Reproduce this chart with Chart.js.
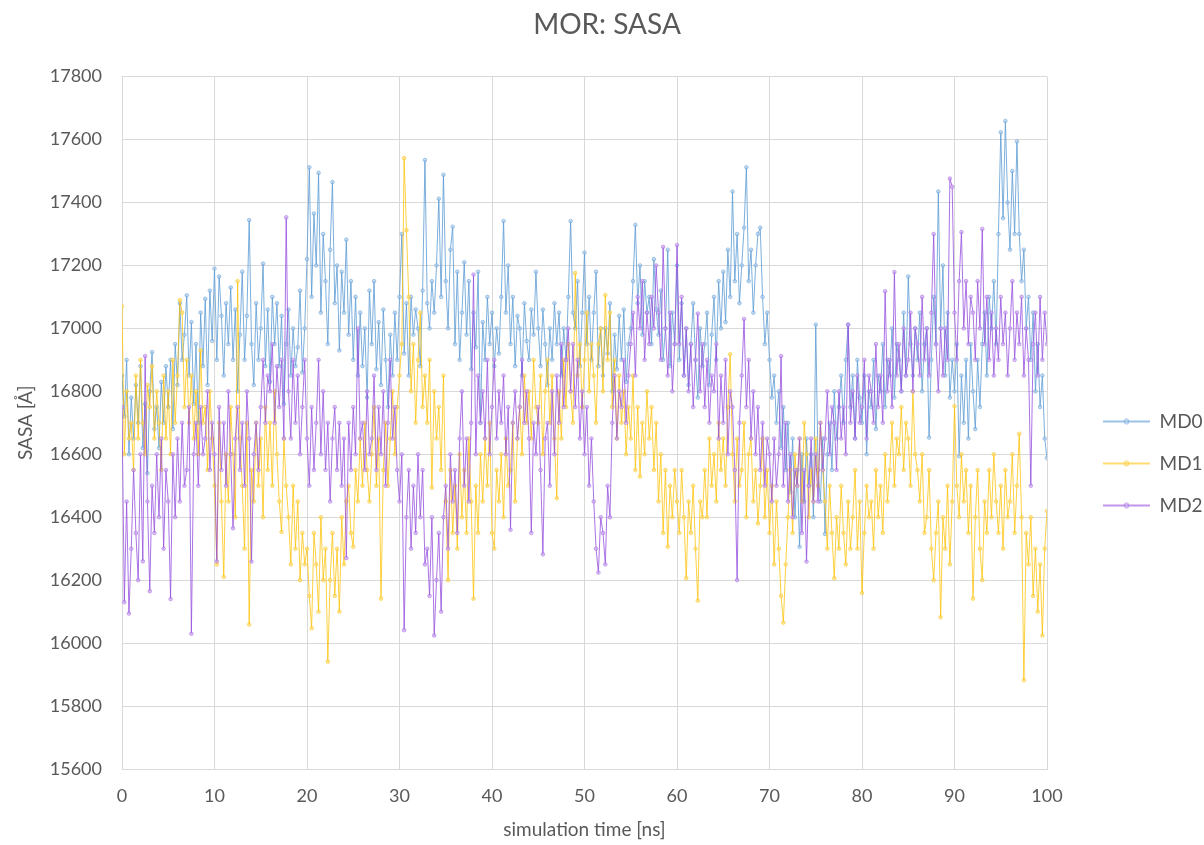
<!DOCTYPE html>
<html>
<head>
<meta charset="utf-8">
<title>MOR: SASA</title>
<script src="https://cdn.jsdelivr.net/npm/chart.js@4.4.1/dist/chart.umd.min.js"></script>
<style>
    html, body { margin: 0; padding: 0; background: #ffffff; }
</style>
</head>
<body>
<canvas id="chartSasa" width="1204" height="845"></canvas>
<script>
// Sampling step of the trajectories (ns)
const timeStepNs = 0.25;

// SASA values, one row per ns
const md0Sasa = [
    16850, 16720, 16900, 16600,
    16780, 16650, 16820, 16700,
    16880, 16620, 16760, 16540,
    16800, 16925, 16680, 16750,
    16620, 16830, 16700, 16880,
    16750, 16900, 16680, 16950,
    16820, 17080, 16900, 16980,
    17105, 16850, 17020, 16760,
    16950, 16700, 17050, 16880,
    17094, 16820, 17120, 16960,
    17190, 16900, 17165, 17040,
    16850, 17080, 16950, 17130,
    16900, 17060, 16800, 16980,
    17180, 16900, 17040, 17344,
    16950, 16820, 17080, 16900,
    17000, 17206, 16880, 17060,
    16830, 17100, 16950, 17080,
    16880, 17040, 16760, 16950,
    17060, 16850, 17000, 16880,
    16940, 17120, 16860, 17000,
    17220, 17512, 17100, 17365,
    17200, 17494, 17050, 17300,
    17150, 16950, 17250, 17465,
    17080, 17200, 16930, 17180,
    17050, 17282, 16980, 17150,
    16900, 17100, 16850, 17050,
    16880, 17000, 16780, 17120,
    16950, 17150, 16870, 17020,
    16820, 17060, 16900, 16750,
    16980, 16850, 17050, 16900,
    17100, 17300, 16920, 17080,
    16850, 17100, 16980, 17060,
    17000, 16880, 17120, 17535,
    17080, 17000, 17150, 17050,
    17200, 17412, 17100, 17488,
    17150, 17000, 17250, 17323,
    16950, 17180, 16900, 17050,
    17210, 16980, 17150, 16870,
    17050, 16940, 17180, 16700,
    17020, 16900, 17100, 16950,
    17050, 16880, 17000, 16920,
    17100, 17341, 17050, 17200,
    16950, 17100, 16880, 17040,
    17000, 16850, 17080, 16960,
    16900, 17060, 16980, 17180,
    17000, 16880, 17060, 16950,
    16820, 17000, 16900, 17080,
    16950, 17050, 16850, 17000,
    16900, 17100, 17341, 17050,
    17000, 17150, 16880, 17050,
    17241, 16950, 17100, 16900,
    17050, 17180, 16880, 17000,
    16850, 17000, 16920, 17080,
    16800, 16980, 16870, 17040,
    16900, 17060, 16830, 16950,
    17000, 17150, 17329, 17080,
    17200, 16980, 17150, 17050,
    17100, 16950, 17220, 17060,
    16980, 17120, 16900, 17000,
    17250, 16880, 17050, 16950,
    17200, 16900, 17080, 16850,
    17000, 16820, 16950, 17080,
    16900, 16780, 17000, 16880,
    16950, 17050, 16820, 16980,
    17100, 16900, 17150, 17000,
    17180, 17020, 17250, 17100,
    17435, 17150, 17300, 17080,
    17200, 17320, 17512, 17150,
    17250, 17050, 17200, 17300,
    17320, 17100, 16950, 17050,
    16900, 16780, 16850, 16700,
    16800, 16620, 16750, 16550,
    16700, 16480, 16650, 16400,
    16550, 16306, 16600, 16450,
    16650, 16500, 16600, 16400,
    17012, 16550, 16450, 16650,
    16347, 16600, 16700, 16550,
    16800, 16650, 16750, 16850,
    16700, 16900, 17012, 16750,
    16850, 16650, 16900, 16780,
    16700, 16850, 16600, 16800,
    16750, 16900, 16680, 16850,
    16800, 16950, 16750, 16900,
    16850, 17000, 16780, 16950,
    16900, 16800, 17050, 16850,
    17165, 16950, 16850, 17000,
    16900, 17050, 16800, 16950,
    17000, 16653, 16900, 17100,
    16950, 17435, 17000, 17200,
    16850, 17050, 16780, 16900,
    16800, 16950, 16594, 16850,
    16700, 16900, 16650, 16950,
    16800, 16680, 16900, 16750,
    16950, 17050, 16850, 17100,
    17000, 17150, 16950, 17300,
    17623, 17350, 17659, 17400,
    17250, 17500, 17300, 17594,
    17300, 17150, 17250, 17000,
    17100, 16900, 17050, 16800,
    16950, 16750, 16850, 16650,
    16588
];

const md1Sasa = [
    17070, 16600, 16800, 16650,
    16700, 16550, 16850, 16650,
    16900, 16700, 16600, 16820,
    16750, 16880, 16650, 16800,
    16700, 16550, 16850, 16650,
    16800, 16600, 16900, 16700,
    16850, 17090, 17050, 16750,
    16900, 16700, 16850, 16650,
    16800, 16600, 16930, 16700,
    16750, 16550, 16800, 16650,
    16500, 16250, 16700, 16450,
    16210, 16600, 16450, 16750,
    16600, 16400, 17150, 16650,
    16500, 16300, 16700, 16059,
    16550, 16450, 16700, 16500,
    16650, 16400, 16750, 16550,
    16700, 16500, 16800, 16600,
    16450, 16353, 16650, 16500,
    16400, 16250, 16500, 16300,
    16450, 16200, 16350, 16250,
    16300, 16150, 16047, 16350,
    16250, 16100, 16400, 16200,
    16300, 15941, 16200, 16350,
    16150, 16300, 16100, 16400,
    16250, 16450, 16500, 16350,
    16306, 16550, 16450, 16650,
    16500, 16700, 16550, 16450,
    16600, 16750, 16500, 16650,
    16141, 16550, 16700, 16500,
    16650, 16800, 16600, 16750,
    16850, 16950, 17541, 17312,
    17100, 16800, 16950, 16700,
    16900, 17050, 16750, 16850,
    16700, 16900, 16494, 16800,
    16650, 16750, 16550, 16850,
    16450, 16200, 16550, 16350,
    16500, 16300, 16600, 16400,
    16550, 16350, 16650, 16450,
    16141, 16500, 16350, 16600,
    16450, 16650, 16500, 16700,
    16350, 16300, 16550, 16450,
    16600, 16400, 16650, 16500,
    16550, 16700, 16450, 16650,
    16750, 16600, 16850, 16700,
    16800, 16650, 16900, 16750,
    16700, 16850, 16600, 16800,
    16900, 16700, 16850, 16650,
    16460, 16800, 16650, 16900,
    16750, 16950, 16800, 16700,
    17176, 16850, 16950, 16750,
    16900, 17050, 16800, 16950,
    16850, 16700, 16950, 17000,
    16800, 17106, 16900, 17050,
    16750, 16900, 16650, 16850,
    16700, 16800, 16600, 16750,
    16650, 16850, 16550, 16750,
    16529, 16700, 16600, 16800,
    16650, 16750, 16550, 16700,
    16450, 16600, 16350, 16550,
    16306, 16500, 16400, 16550,
    16450, 16350, 16550, 16400,
    16206, 16450, 16350, 16500,
    16300, 16135, 16450, 16400,
    16550, 16400, 16650, 16500,
    16600, 16450, 16700, 16550,
    16650, 16500, 16750, 16918,
    16600, 16450, 16650, 16500,
    16550, 16700, 16400, 16600,
    16650, 16450, 16550, 16380,
    16500, 16650, 16400, 16550,
    16350, 16500, 16250, 16450,
    16300, 16150, 16065, 16250,
    16400, 16550, 16350, 16600,
    16500, 16650, 16450, 16700,
    16600, 16400, 16550, 16450,
    16650, 16500, 16700, 16550,
    16450, 16300, 16500, 16350,
    16206, 16400, 16300, 16500,
    16350, 16250, 16450, 16300,
    16400, 16550, 16300, 16450,
    16159, 16350, 16500, 16400,
    16450, 16300, 16550, 16400,
    16500, 16350, 16600, 16450,
    16550, 16700, 16500, 16650,
    16600, 16750, 16550, 16700,
    16650, 16500, 16800, 16600,
    16550, 16450, 16600, 16350,
    16400, 16550, 16300, 16200,
    16350, 16450, 16082, 16400,
    16300, 16500, 16250, 16450,
    16753, 16500, 16400, 16600,
    16450, 16550, 16350, 16500,
    16141, 16400, 16550, 16300,
    16200, 16450, 16350, 16550,
    16400, 16600, 16450, 16350,
    16500, 16300, 16550, 16400,
    16450, 16600, 16350, 16500,
    16665, 16400, 15882, 16350,
    16250, 16400, 16150, 16300,
    16100, 16250, 16024, 16300,
    16420
];

const md2Sasa = [
    16750, 16130, 16450, 16094,
    16300, 16550, 16350, 16200,
    16600, 16260, 16912, 16450,
    16165, 16500, 16350, 16600,
    16400, 16650, 16300, 16550,
    16450, 16140, 16600, 16400,
    16650, 16450, 16700, 16500,
    16550, 16750, 16030, 16600,
    16700, 16500, 16750, 16600,
    16650, 16800, 16550, 16700,
    16600, 16260, 16750, 16550,
    16700, 16500, 16800, 16600,
    16365, 16650, 16750, 16550,
    16700, 16500, 16800, 16650,
    16259, 16600, 16700, 16550,
    16750, 16900, 16700, 16850,
    16800, 16950, 16700, 16880,
    16750, 16900, 16650, 17353,
    16800, 16650, 16900, 16700,
    16850, 16600, 16750, 16900,
    16650, 16500, 16750, 16550,
    16700, 16900, 16600, 16800,
    16550, 16700, 16450, 16650,
    16750, 16550, 16700, 16500,
    16650, 16270, 16700, 16550,
    16750, 16600, 17000, 16650,
    16700, 16550, 16800, 16600,
    16650, 16850, 16550, 16750,
    16600, 16800, 16500, 16700,
    16900, 16650, 16750, 16550,
    16450, 16600, 16041, 16400,
    16550, 16300, 16500, 16350,
    16600, 16400, 16550, 16250,
    16300, 16150, 16400, 16024,
    16200, 16350, 16100, 16400,
    16500, 16300, 16600, 16450,
    16550, 16350, 16650, 16800,
    16500, 16650, 16450, 16700,
    17171, 16600, 16850, 16700,
    16800, 16650, 16900, 16600,
    16750, 16900, 16650, 16800,
    16700, 16850, 16600, 16750,
    16360, 16700, 16800, 16650,
    16750, 16900, 16700, 16800,
    16650, 16350, 16700, 16600,
    16750, 16550, 16282, 16650,
    16700, 16500, 16800, 16600,
    16850, 16700, 16950, 16750,
    16900, 17000, 16800, 16950,
    16750, 16900, 16650, 16800,
    16600, 16750, 16500, 16650,
    16450, 16300, 16224, 16400,
    16350, 16250, 16500, 16400,
    16700, 16850, 16650, 16800,
    16750, 16900, 16700, 16850,
    16950, 17050, 16850, 17100,
    17000, 17150, 16900, 17050,
    16950, 17100, 17000, 17200,
    17050, 16900, 17259, 17000,
    16850, 17050, 16800, 16950,
    17265, 16950, 17100, 16850,
    17000, 16800, 16950, 16750,
    16900, 17047, 16800, 16950,
    16750, 16900, 16700, 16850,
    16800, 16950, 16650, 16850,
    16700, 16900, 16600, 16800,
    16750, 16550, 16200, 16700,
    16850, 17030, 16750, 16900,
    16650, 16800, 16600, 16750,
    16550, 16700, 16500, 16650,
    16600, 16450, 16650, 16500,
    16600, 16912, 16500, 16700,
    16450, 16600, 16400, 16550,
    16500, 16650, 16350, 16550,
    16259, 16500, 16650, 16450,
    16600, 16450, 16700, 16550,
    16650, 16800, 16600, 16750,
    16700, 16550, 16800, 16650,
    16750, 16600, 17012, 16700,
    16800, 16650, 16850, 16700,
    16750, 16900, 16650, 16850,
    16800, 16700, 16950, 16750,
    16850, 16700, 17118, 16800,
    16900, 16750, 17179, 16850,
    16950, 16800, 17000, 16850,
    16900, 17050, 16800, 17000,
    16950, 16850, 17100, 16900,
    17000, 16850, 17050, 17300,
    16950, 16800, 17000, 16850,
    17000, 16900, 17476, 17450,
    17050, 16900, 17150, 17306,
    17000, 17150, 16950, 17100,
    17050, 16900, 17150, 17000,
    17316, 16950, 17100, 16900,
    17050, 16850, 17000, 16900,
    17100, 16950, 17050, 16850,
    17000, 17150, 16900, 17050,
    16950, 17100, 16850, 17000,
    16900, 16500, 16950, 17050,
    16850, 17100, 16900, 17050,
    16950
];

const seriesNames = ['MD0', 'MD1', 'MD2'];
const lineColors = ['rgba(91, 155, 213, 0.8)', 'rgba(255, 192, 0, 0.75)', 'rgba(150, 80, 222, 0.8)'];
const pointColors = ['rgba(170, 204, 235, 0.6)', 'rgba(255, 218, 110, 0.6)', 'rgba(200, 165, 240, 0.6)'];
const pointEdges = ['rgba(110, 165, 218, 0.6)', 'rgba(250, 200, 40, 0.6)', 'rgba(170, 115, 228, 0.6)'];

const textGrey = '#595959';
const gridGrey = '#d9d9d9';
const fontFamily = 'Lato, "Open Sans", sans-serif';

// x values of the samples
const timeNs = md0Sasa.map((_, i) => i * timeStepNs);

function toPoints(values) {
    return values.map((v, i) => ({ x: timeNs[i], y: v }));
}

// small line+dot picture for the legend, like the Excel one
function legendIcon(lineColor, dotColor, edgeColor) {
    const c = document.createElement('canvas');
    c.width = 80;
    c.height = 10;
    const g = c.getContext('2d');
    g.strokeStyle = lineColor;
    g.lineWidth = 1.5;
    g.beginPath();
    g.moveTo(33, 5);
    g.lineTo(80, 5);
    g.stroke();
    g.fillStyle = dotColor;
    g.strokeStyle = edgeColor;
    g.lineWidth = 1;
    g.beginPath();
    g.arc(56.5, 5, 2.5, 0, Math.PI * 2);
    g.fill();
    g.stroke();
    return c;
}

const legendIcons = seriesNames.map((_, i) => legendIcon(lineColors[i], pointColors[i], pointEdges[i]));

const allSeries = [md0Sasa, md1Sasa, md2Sasa];

const datasets = allSeries.map((values, i) => ({
    label: seriesNames[i],
    data: toPoints(values),
    borderColor: lineColors[i],
    backgroundColor: pointColors[i],
    borderWidth: 1,
    pointRadius: 1.8,
    pointBorderWidth: 1,
    pointBorderColor: pointEdges[i],
    pointBackgroundColor: pointColors[i],
    tension: 0,
    fill: false,
    order: 2 - i   // later series drawn on top, as in Excel
}));

const ctx = document.getElementById('chartSasa').getContext('2d');
const sasaChart = new Chart(ctx, {
    type: 'line',
    data: { datasets: datasets },
    options: {
        responsive: false,
        animation: false,
        layout: { padding: { left: 10, right: 0, top: 0, bottom: 0 } },
        plugins: {
            title: {
                display: true,
                text: 'MOR: SASA',
                color: textGrey,
                font: { family: fontFamily, size: 28, weight: 'normal' },
                padding: { top: 8, bottom: 35 }
            },
            legend: {
                position: 'right',
                maxWidth: 157,
                title: { display: true, text: ' ', font: { size: 10 }, padding: { top: 70, bottom: 0 } },
                labels: {
                    usePointStyle: true,
                    pointStyleWidth: 80,
                    padding: 23,
                    color: textGrey,
                    font: { family: fontFamily, size: 19 },
                    sort: (a, b) => a.datasetIndex - b.datasetIndex,
                    generateLabels: (chart) => {
                        const items = Chart.defaults.plugins.legend.labels.generateLabels(chart);
                        return items.map(item => ({ ...item, pointStyle: legendIcons[item.datasetIndex] }));
                    }
                }
            },
            tooltip: { enabled: false }
        },
        scales: {
            x: {
                type: 'linear',
                min: 0,
                max: 100,
                grid: { color: gridGrey, drawTicks: false },
                border: { color: gridGrey },
                ticks: {
                    stepSize: 10,
                    padding: 16,
                    color: textGrey,
                    font: { family: fontFamily, size: 18 },
                    callback: (value) => String(value)
                },
                title: {
                    display: true,
                    text: 'simulation time [ns]',
                    color: textGrey,
                    font: { family: fontFamily, size: 19 },
                    padding: { top: 4, bottom: 4 }
                },
                afterFit: (scale) => { scale.height = 76; }
            },
            y: {
                min: 15600,
                max: 17800,
                grid: { color: gridGrey, drawTicks: false },
                border: { color: gridGrey },
                ticks: {
                    stepSize: 200,
                    padding: 20,
                    color: textGrey,
                    font: { family: fontFamily, size: 18 },
                    callback: (value) => String(value)
                },
                title: {
                    display: true,
                    text: 'SASA [Å]',
                    color: textGrey,
                    font: { family: fontFamily, size: 19 },
                    padding: { top: 4, bottom: 4 }
                },
                afterFit: (scale) => { scale.width = 112; }
            }
        }
    }
});
</script>
</body>
</html>
